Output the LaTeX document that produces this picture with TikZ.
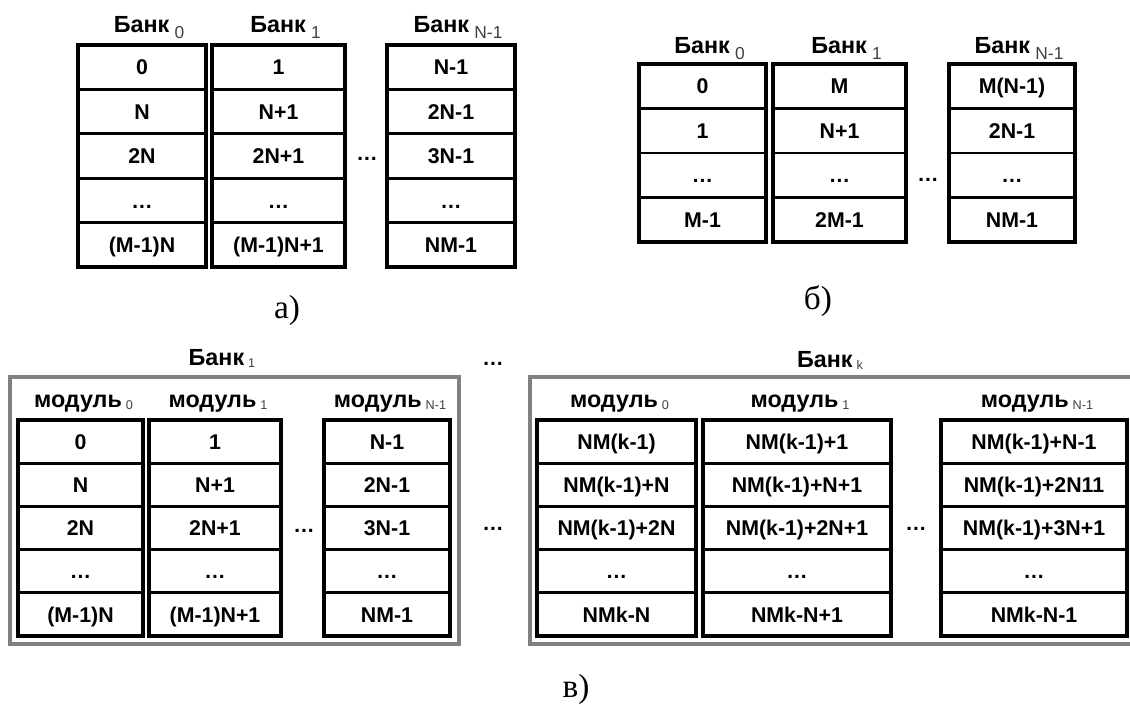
\documentclass[tikz,border=0pt]{standalone}
\usepackage{fontspec}
\setmainfont{Liberation Sans}
\newfontfamily\labfont{Liberation Serif}
\newcommand\subtop[1]{\hspace{4pt}{\fontsize{13}{13}\selectfont\mdseries\color{black!75}\raisebox{-4.5pt}{#1}}}
\newcommand\subbot[1]{\hspace{3pt}{\fontsize{9.5}{9.5}\selectfont\mdseries\color{black!75}\raisebox{-1.8pt}{#1}}}
\tikzset{
  cellline/.style={line width=2pt, draw=black},
  colline/.style={line width=2.6pt, draw=black},
  bankbox/.style={line width=2.4pt, draw=black!50},
  celltext/.style={font=\fontsize{16}{16}\selectfont\bfseries, inner sep=0pt, text height=11.5pt, text depth=0pt, anchor=center},
  hdrtext/.style={font=\fontsize{17.5}{17.5}\selectfont\bfseries, inner sep=0pt, anchor=base},
  dotstext/.style={font=\fontsize{16}{16}\selectfont\bfseries, inner sep=0pt, anchor=base},
  labtext/.style={font=\labfont\fontsize{25}{25}\selectfont, inner sep=0pt, anchor=center},
}
% #1 name, #2 xl, #3 xr, #4 ytop, #5 row h, #6 ybottom, #7 items
\newcommand\memcol[7]{%
  \foreach \t [count=\i] in {#7} {
    \pgfmathsetmacro\ya{#4+(\i-1)*#5}
    \pgfmathsetmacro\yb{#4+\i*#5}
    \pgfmathsetmacro\ym{#4+(\i-0.5)*#5}
    \draw[cellline] (#2,\ya) rectangle (#3,\yb);
    \node[celltext] (#1-\i) at ({(#2+#3)/2},\ym) {\t};
  }
  \draw[colline] (#2,#4) rectangle (#3,#6);
}
\begin{document}
\begin{tikzpicture}[x=0.75pt,y=-0.75pt]
\useasboundingbox[fill=white] (0,0) rectangle (1130,704);

% ---------- a) ----------
\node[hdrtext] (ah0) at (149,32) {Банк\subtop{0}};
\node[hdrtext] (ah1) at (285.5,32) {Банк\subtop{1}};
\node[hdrtext] (ah2) at (458,32) {Банк\subtop{N-1}};
\memcol{a0}{78}{206}{45}{44.4}{267}{0,N,2N,…,{(M-1)N}}
\memcol{a1}{212}{345}{45}{44.4}{267}{1,N+1,2N+1,…,{(M-1)N+1}}
\memcol{a2}{387}{515}{45}{44.4}{267}{N-1,2N-1,3N-1,…,NM-1}
\node[dotstext] (adots) at (367,160) {…};
\node[labtext] (alab) at (287,310) {а)};

% ---------- б) ----------
\node[hdrtext] (bh0) at (709.5,53) {Банк\subtop{0}};
\node[hdrtext] (bh1) at (846.5,53) {Банк\subtop{1}};
\node[hdrtext] (bh2) at (1019,53) {Банк\subtop{N-1}};
\memcol{b0}{639}{766}{64}{44.5}{242}{0,1,…,M-1}
\memcol{b1}{773}{906}{64}{44.5}{242}{M,N+1,…,2M-1}
\memcol{b2}{949}{1075}{64}{44.5}{242}{{M(N-1)},2N-1,…,NM-1}
\node[dotstext] (bdots) at (928,181) {…};
\node[labtext] (blab) at (818,301) {б)};

% ---------- в) left bank ----------
\draw[bankbox] (10,377) rectangle (459,644);
\node[hdrtext] (cbank) at (222,365) {Банк\subbot{1}};
\node[hdrtext] (cm0) at (83.5,407) {модуль\subbot{0}};
\node[hdrtext] (cm1) at (218,407) {модуль\subbot{1}};
\node[hdrtext] (cm2) at (390,407) {модуль\subbot{N-1}};
\memcol{c0}{18}{143}{420}{43.2}{636}{0,N,2N,…,{(M-1)N}}
\memcol{c1}{149}{281}{420}{43.2}{636}{1,N+1,2N+1,…,{(M-1)N+1}}
\memcol{c2}{324}{450}{420}{43.2}{636}{N-1,2N-1,3N-1,…,NM-1}
\node[dotstext] (cdots) at (304,532) {…};

% dots between banks
\node[dotstext] (mdots1) at (493,365) {…};
\node[dotstext] (mdots2) at (493,530) {…};

% ---------- в) right bank ----------
\draw[bankbox] (1132,377) -- (530,377) -- (530,644) -- (1132,644);
\node[hdrtext] (dbank) at (830,367) {Банк\subbot{k}};
\node[hdrtext] (dm0) at (619.5,407) {модуль\subbot{0}};
\node[hdrtext] (dm1) at (800,407) {модуль\subbot{1}};
\node[hdrtext] (dm2) at (1037,407) {модуль\subbot{N-1}};
\memcol{d0}{537}{696}{420}{43.2}{636}{{NM(k-1)},{NM(k-1)+N},{NM(k-1)+2N},…,NMk-N}
\memcol{d1}{703}{891}{420}{43.2}{636}{{NM(k-1)+1},{NM(k-1)+N+1},{NM(k-1)+2N+1},…,NMk-N+1}
\memcol{d2}{941}{1127}{420}{43.2}{636}{{NM(k-1)+N-1},{NM(k-1)+2N11},{NM(k-1)+3N+1},…,NMk-N-1}
\node[dotstext] (ddots) at (916,530) {…};

\node[labtext] (clab) at (576,689) {в)};
\end{tikzpicture}
\end{document}
